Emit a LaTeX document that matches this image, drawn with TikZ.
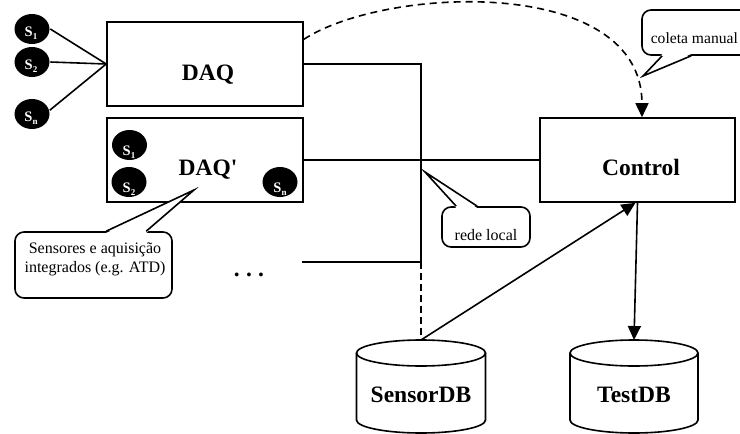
\documentclass[tikz,border=0pt]{standalone}
\usepackage{fontspec}
\setmainfont{Liberation Serif}
\usetikzlibrary{arrows.meta,shapes.geometric,calc}
\newcommand\sensorname[1]{\textbf{S}\kern0.2pt\raisebox{-3pt}{\fontsize{9}{9}\selectfont\bfseries #1}}
\begin{document}
\begin{tikzpicture}[x=1pt,y=-1pt,line width=1.6pt,
  bigtext/.style={font=\fontsize{23.5}{27}\selectfont\bfseries,anchor=base,inner sep=0pt},
  smalltext/.style={font=\fontsize{16}{19}\selectfont,inner sep=0pt},
  blockbox/.style={draw,rectangle,minimum width=196pt,minimum height=84pt,inner sep=0pt},
  sensor/.style={ellipse,fill=black,minimum width=35pt,minimum height=30pt,inner sep=0pt},
  sensorlabel/.style={text=white,font=\fontsize{14.5}{14.5}\selectfont,anchor=base,inner sep=0pt},
  calloutbox/.style={draw,fill=white,rectangle,rounded corners=9pt,inner sep=0pt},
  tip/.style={-{Triangle[length=14pt,width=13pt]}}]
\useasboundingbox (0,0) rectangle (740,434);
\clip (0,0) rectangle (740,434);

% blocks
\node[blockbox] (DAQ) at (205,64) {};
\node[bigtext] (DAQt) at (208,80) {DAQ};
\node[blockbox] (DAQp) at (205,160) {};
\node[bigtext] (DAQpt) at (208,175) {DAQ\textquotesingle};
\node[blockbox,minimum width=195pt] (Ctrl) at (637.5,160) {};
\node[bigtext] (Ctrlt) at (641,175) {Control};

% external sensors
\node[sensor] (S1) at (32,29) {};
\node[sensorlabel] (S1t) at (31,36) {\sensorname{1}};
\node[sensor] (S2) at (32,62) {};
\node[sensorlabel] (S2t) at (31,69.5) {\sensorname{2}};
\node[sensor] (Sn) at (32,114) {};
\node[sensorlabel] (Snt) at (31,121.5) {\sensorname{n}};
\draw (S1.east) -- (DAQ.west);
\draw (S2.east) -- (DAQ.west);
\draw (Sn.12) -- (DAQ.west);

% integrated sensors
\node[sensor] (iS1) at (129.5,145) {};
\node[sensorlabel] (iS1t) at (129,155) {\sensorname{1}};
\node[sensor] (iS2) at (129,182) {};
\node[sensorlabel] (iS2t) at (129,192) {\sensorname{2}};
\node[sensor] (iSn) at (280,182) {};
\node[sensorlabel] (iSnt) at (280,192) {\sensorname{n}};

% dots
\node[bigtext] (dots) at (249,276) {.\hspace{6.3pt}.\hspace{6.3pt}.};
\coordinate (dl) at (302,262);

% databases
\coordinate (sdbtop) at (421,340);
\draw[fill=white] (356.5,353) -- (356.5,420) arc[start angle=180,end angle=360,x radius=64.5pt,y radius=13pt] -- (485.5,353);
\draw[fill=white] (421,353) ellipse [x radius=64.5pt,y radius=13pt];
\node[bigtext] (SDB) at (421,402) {SensorDB};
\coordinate (tdbtop) at (634,340);
\draw[fill=white] (570,353) -- (570,420) arc[start angle=180,end angle=360,x radius=64pt,y radius=13pt] -- (698,353);
\draw[fill=white] (634,353) ellipse [x radius=64pt,y radius=13pt];
\node[bigtext] (TDB) at (634,402) {TestDB};

% network
\coordinate (j2) at (421,262);
\draw (DAQ.east) -| (j2);
\draw (dl) -- (j2);
\draw[dash pattern=on 7pt off 4pt] (j2) -- (sdbtop);
\draw (DAQp.east) -- (Ctrl.west);
\draw[tip] (sdbtop) -- ([xshift=-2pt]Ctrl.south);
\draw[tip] (Ctrl.south) -- (tdbtop);
\draw[tip,dash pattern=on 7pt off 5pt] (DAQ.14) .. controls (385,-14) and (642,-25) .. (Ctrl.84);

% callout: coleta manual
\node[calloutbox,minimum width=110pt,minimum height=45pt] (cm) at (697,32.5) {};
\node[smalltext,anchor=base west,font=\fontsize{15.6}{19}\selectfont] (cmt) at (650,43) {coleta manual};
\coordinate (cmtip) at (643,76);
\fill[white] ([xshift=21pt,yshift=1.8pt]cm.south west) -- (cmtip) -- ([xshift=50pt,yshift=1.8pt]cm.south west) -- cycle;
\draw[line join=miter] ([xshift=21pt]cm.south west) -- (cmtip) -- ([xshift=50pt]cm.south west);

% callout: rede local
\node[calloutbox,minimum width=88pt,minimum height=40pt] (rl) at (486,227) {};
\node[smalltext,anchor=base] (rlt) at (486,240) {rede local};
\coordinate (rltip) at (425,172);
\fill[white] ([xshift=15pt,yshift=-1.8pt]rl.north west) -- (rltip) -- ([xshift=36pt,yshift=-1.8pt]rl.north west) -- cycle;
\draw[line join=miter] ([xshift=15pt]rl.north west) -- (rltip) -- ([xshift=36pt]rl.north west);

% callout: sensores
\node[calloutbox,minimum width=157pt,minimum height=66pt] (si) at (93.5,265) {};
\node[smalltext,anchor=base,align=center] (sit) at (95,272) {Sensores e aquisição\\integrados (e.g. ATD)};
\coordinate (sitip) at (194,190);
\fill[white] ([xshift=92pt,yshift=-1.8pt]si.north west) -- (sitip) -- ([xshift=132pt,yshift=-1.8pt]si.north west) -- cycle;
\draw[line join=miter] ([xshift=92pt]si.north west) -- (sitip) -- ([xshift=132pt]si.north west);
\end{tikzpicture}
\end{document}
